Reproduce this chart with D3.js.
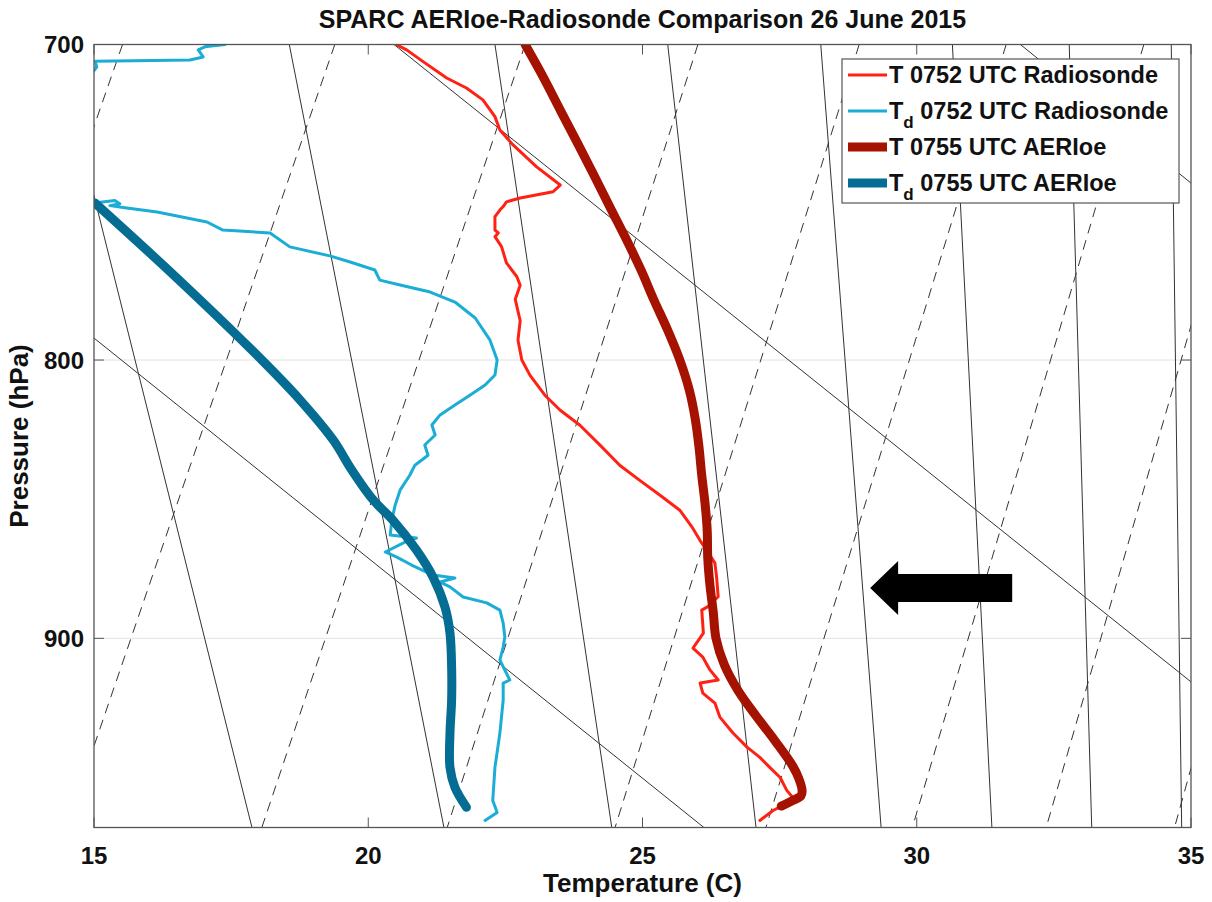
<!DOCTYPE html>
<html>
<head>
<meta charset="utf-8">
<script src="https://cdn.jsdelivr.net/npm/d3@7"></script>
<style>
  body { margin: 0; background: #fff; }
  text { font-family: "Liberation Sans", Arial, Helvetica, sans-serif; font-weight: bold; fill: #111; }
</style>
</head>
<body>
<div id="chart"></div>
<script>
// radiosonde temperature, [pressure hPa, T degC]
var sondeT = [
  [700.1,20.52],[701.6,20.70],[705.1,21.00],[710.0,21.43],[713.0,21.79],[716.6,22.09],
  [721.7,22.31],[725.8,22.40],[730.4,22.64],[737.2,23.07],[742.9,23.50],[745.0,23.37],
  [747.0,22.77],[748.2,22.52],[749.7,22.46],[750.8,22.40],[752.9,22.31],[757.2,22.31],
  [758.1,22.37],[759.3,22.31],[762.5,22.43],[767.8,22.52],[772.3,22.71],[775.1,22.77],
  [779.7,22.68],[786.8,22.77],[793.3,22.73],[800.0,22.80],[805.2,22.95],[812.0,23.22],
  [817.2,23.50],[822.4,23.86],[829.4,24.23],[836.5,24.59],[841.8,24.95],[847.1,25.32],
  [848.9,25.44],[852.5,25.68],[858.5,25.90],[863.5,26.05],[867.0,26.17],[871.8,26.32],
  [876.8,26.35],[884.3,26.38],[888.0,26.19],[889.3,26.08],[898.0,26.11],[903.7,25.92],
  [907.2,26.10],[912.1,26.23],[916.0,26.38],[917.2,26.05],[921.1,26.10],[925.0,26.32],
  [930.5,26.41],[936.8,26.65],[942.3,26.90],[946.5,27.14],[950.5,27.32],[954.6,27.51],
  [959.8,27.63],[962.7,27.74],[965.1,27.63],[968.0,27.38],[972.1,27.14]
];

// radiosonde dewpoint (null = leaves the plot on the left)
var sondeTd = [
  [700.0,17.39],[700.7,17.02],[701.6,16.90],[703.7,16.99],[704.6,16.75],[705.0,15.02],
  [706.7,15.05],[708.2,14.98],
  null,
  [748.6,14.98],[747.8,15.38],[748.8,15.47],[749.4,15.29],[750.0,15.53],[751.4,16.15],
  [754.6,17.06],[757.2,17.35],[758.1,18.21],[762.6,18.57],[765.5,19.30],[767.5,19.67],
  [770.1,20.12],[773.4,20.21],[775.0,20.58],[777.3,21.13],[780.6,21.58],[785.9,21.95],
  [793.3,22.22],[800.0,22.35],[805.1,22.31],[808.5,22.13],[811.9,21.86],[815.4,21.58],
  [818.8,21.31],[822.3,21.16],[825.8,21.22],[829.3,21.03],[832.9,21.09],[836.4,20.85],
  [839.9,20.76],[845.3,20.58],[850.7,20.49],[856.1,20.43],[861.5,20.40],[862.6,20.88],
  [864.1,20.67],[867.7,20.31],[869.6,20.52],[872.5,20.79],[876.2,21.18],[877.3,21.58],
  [878.8,21.31],[880.6,21.49],[884.4,21.73],[886.6,22.16],[889.3,22.40],[894.2,22.46],
  [899.5,22.49],[903.3,22.46],[908.3,22.40],[916.0,22.58],[917.2,22.46],[923.8,22.46],
  [936.8,22.40],[950.5,22.31],[963.9,22.27],[968.8,22.35],[972.1,22.13]
];

// AERIoe retrieved temperature
var aeriT = [
  [700,22.86],[710,23.20],[720,23.51],[730,23.82],[740,24.12],[750,24.41],[760,24.70],
  [770,24.97],[780,25.21],[790,25.46],[800,25.68],[810,25.85],[820,25.96],[830,26.03],
  [840,26.08],[850,26.14],[860,26.18],[870,26.19],[880,26.23],[890,26.29],[900,26.34],
  [910,26.49],[920,26.74],[930,27.07],[940,27.42],[950,27.74],[955,27.85],[960,27.91],
  [962,27.89],[964,27.73],[966.2,27.53]
];

// AERIoe retrieved dewpoint
var aeriTd = [
  [748.6,15.02],[772.7,16.51],[800.0,18.06],[813.7,18.76],[827.5,19.36],[838.1,19.70],
  [848.8,20.09],[856.1,20.45],[867.0,20.88],[876.9,21.18],[888.2,21.40],[898.0,21.49],
  [911.1,21.52],[923.8,21.52],[936.8,21.49],[950.5,21.49],[958.6,21.58],[966.7,21.79]
];

// background lines: [T at 700 hPa, T at 975 hPa]
var steepLines = [[14.31,17.88],[18.56,21.38],[22.31,24.44],[25.46,27.07],
                  [28.25,29.35],[30.65,31.37],[32.78,33.19],[34.64,34.83]];
var dashLines  = [[15.52,10.55],[19.39,14.49],[22.86,18.06],[26.01,21.44],
                  [28.95,24.50],[31.63,27.25],[34.14,29.92],[36.48,32.36],[38.66,34.70]];
var slantLines = [[8.33,26.12],[20.47,38.32],[31.89,49.46]];

var xTicks = [15, 20, 25, 30, 35];
var yTicks = [700, 800, 900];
var pTop = 700, pBottom = 975;

var legendLabels = [
  {main: "T", sub: "", rest: " 0752 UTC Radiosonde"},
  {main: "T", sub: "d", rest: " 0752 UTC Radiosonde"},
  {main: "T", sub: "", rest: " 0755 UTC AERIoe"},
  {main: "T", sub: "d", rest: " 0755 UTC AERIoe"}
];
var seriesColors = ["#ff2214", "#1badd6", "#a51300", "#056d93"];
var seriesWidths = [3, 3, 9, 9];

// arrow: tip and tail temperature at one pressure
var arrowP = 881, arrowTipT = 29.15, arrowTailT = 31.74;

// set the graph
var W = 1212, H = 902;
var margin = {top: 44.5, right: 21, bottom: 74.5, left: 94},
    width = W - margin.left - margin.right,
    height = H - margin.top - margin.bottom;

var svg = d3.select("#chart")
  .append("svg")
    .attr("width", W)
    .attr("height", H);

var g = svg.append("g")
    .attr("transform", "translate(" + margin.left + "," + margin.top + ")");

var x = d3.scaleLinear().domain([15, 35]).range([0, width]);
var y = d3.scaleLog().domain([pTop, pBottom]).range([0, height]);

g.append("clipPath").attr("id", "clip")
  .append("rect").attr("width", width).attr("height", height);

// grid
g.selectAll(".grid").data([800, 900]).enter().append("line")
  .attr("x1", 0).attr("x2", width)
  .attr("y1", function(d) { return y(d); })
  .attr("y2", function(d) { return y(d); })
  .attr("stroke", "#e2e2e2").attr("stroke-width", 1);

var bg = g.append("g").attr("clip-path", "url(#clip)");

function drawFamily(data, dash) {
  bg.append("g").selectAll("line")
    .data(data).enter().append("line")
      .attr("x1", function(d) { return x(d[0]); })
      .attr("y1", y(pTop))
      .attr("x2", function(d) { return x(d[1]); })
      .attr("y2", y(pBottom))
      .attr("stroke", "#333")
      .attr("stroke-width", 1)
      .attr("stroke-dasharray", dash);
}
drawFamily(steepLines, null);
drawFamily(dashLines, "10,7");
drawFamily(slantLines, null);

// profiles
var line = d3.line()
  .defined(function(d) { return d !== null; })
  .x(function(d) { return x(d[1]); })
  .y(function(d) { return y(d[0]); });
var smooth = d3.line()
  .curve(d3.curveCatmullRom.alpha(0.5))
  .x(function(d) { return x(d[1]); })
  .y(function(d) { return y(d[0]); });

var series = [sondeT, sondeTd, aeriT, aeriTd];
var plot = g.append("g").attr("clip-path", "url(#clip)");
series.forEach(function(s, i) {
  plot.append("path")
    .datum(s)
    .attr("d", i < 2 ? line : smooth)
    .attr("fill", "none")
    .attr("stroke", seriesColors[i])
    .attr("stroke-width", seriesWidths[i])
    .attr("stroke-linejoin", "round")
    .attr("stroke-linecap", "round");
});

// arrow
var ax0 = x(arrowTipT), ax1 = x(arrowTailT), ay = y(arrowP);
plot.append("path")
  .attr("d", "M" + ax0 + "," + ay +
        "L" + (ax0 + 28) + "," + (ay - 27) +
        "L" + (ax0 + 28) + "," + (ay - 14) +
        "L" + ax1 + "," + (ay - 14) +
        "L" + ax1 + "," + (ay + 14) +
        "L" + (ax0 + 28) + "," + (ay + 14) +
        "L" + (ax0 + 28) + "," + (ay + 27) + "Z")
  .attr("fill", "#000");

// frame
g.append("rect")
  .attr("width", width).attr("height", height)
  .attr("fill", "none").attr("stroke", "#555").attr("stroke-width", 1.3);

// ticks (inward)
g.selectAll(".xt").data(xTicks).enter().append("path")
  .attr("d", function(d) {
    return "M" + x(d) + "," + height + "v-10M" + x(d) + ",0v10";
  })
  .attr("stroke", "#555");
g.selectAll(".yt").data(yTicks).enter().append("path")
  .attr("d", function(d) {
    return "M0," + y(d) + "h10M" + width + "," + y(d) + "h-10";
  })
  .attr("stroke", "#555");

// tick labels
g.selectAll(".xl").data(xTicks).enter().append("text")
  .attr("x", function(d) { return x(d); })
  .attr("y", height + 36)
  .attr("text-anchor", "middle")
  .style("font-size", "24px")
  .text(function(d) { return d; });
g.selectAll(".yl").data(yTicks).enter().append("text")
  .attr("x", -10)
  .attr("y", function(d) { return y(d) + 8.5; })
  .attr("text-anchor", "end")
  .style("font-size", "24px")
  .text(function(d) { return d; });

// axis titles
svg.append("text")
  .attr("x", margin.left + width / 2).attr("y", 892)
  .attr("text-anchor", "middle").style("font-size", "26px")
  .text("Temperature (C)");
svg.append("text")
  .attr("transform", "translate(28," + (margin.top + height / 2) + ") rotate(-90)")
  .attr("text-anchor", "middle").style("font-size", "26px")
  .text("Pressure (hPa)");
svg.append("text")
  .attr("x", margin.left + width / 2).attr("y", 28)
  .attr("text-anchor", "middle").style("font-size", "25px")
  .text("SPARC AERIoe-Radiosonde Comparison 26 June 2015");

// legend
var lg = svg.append("g").attr("transform", "translate(842,59)");
lg.append("rect")
  .attr("width", 337).attr("height", 144)
  .attr("fill", "#fff").attr("stroke", "#555").attr("stroke-width", 1.2);
legendLabels.forEach(function(d, i) {
  var ly = 16 + i * 36;
  lg.append("line")
    .attr("x1", 6).attr("x2", 45).attr("y1", ly).attr("y2", ly)
    .attr("stroke", seriesColors[i]).attr("stroke-width", seriesWidths[i]);
  var t = lg.append("text")
    .attr("x", 47).attr("y", ly + 8)
    .style("font-size", "23.5px");
  t.append("tspan").text(d.main);
  if (d.sub) t.append("tspan").attr("dy", 9).style("font-size", "17px").text(d.sub);
  t.append("tspan").attr("dy", d.sub ? -9 : 0).text(d.rest);
});
</script>
</body>
</html>
